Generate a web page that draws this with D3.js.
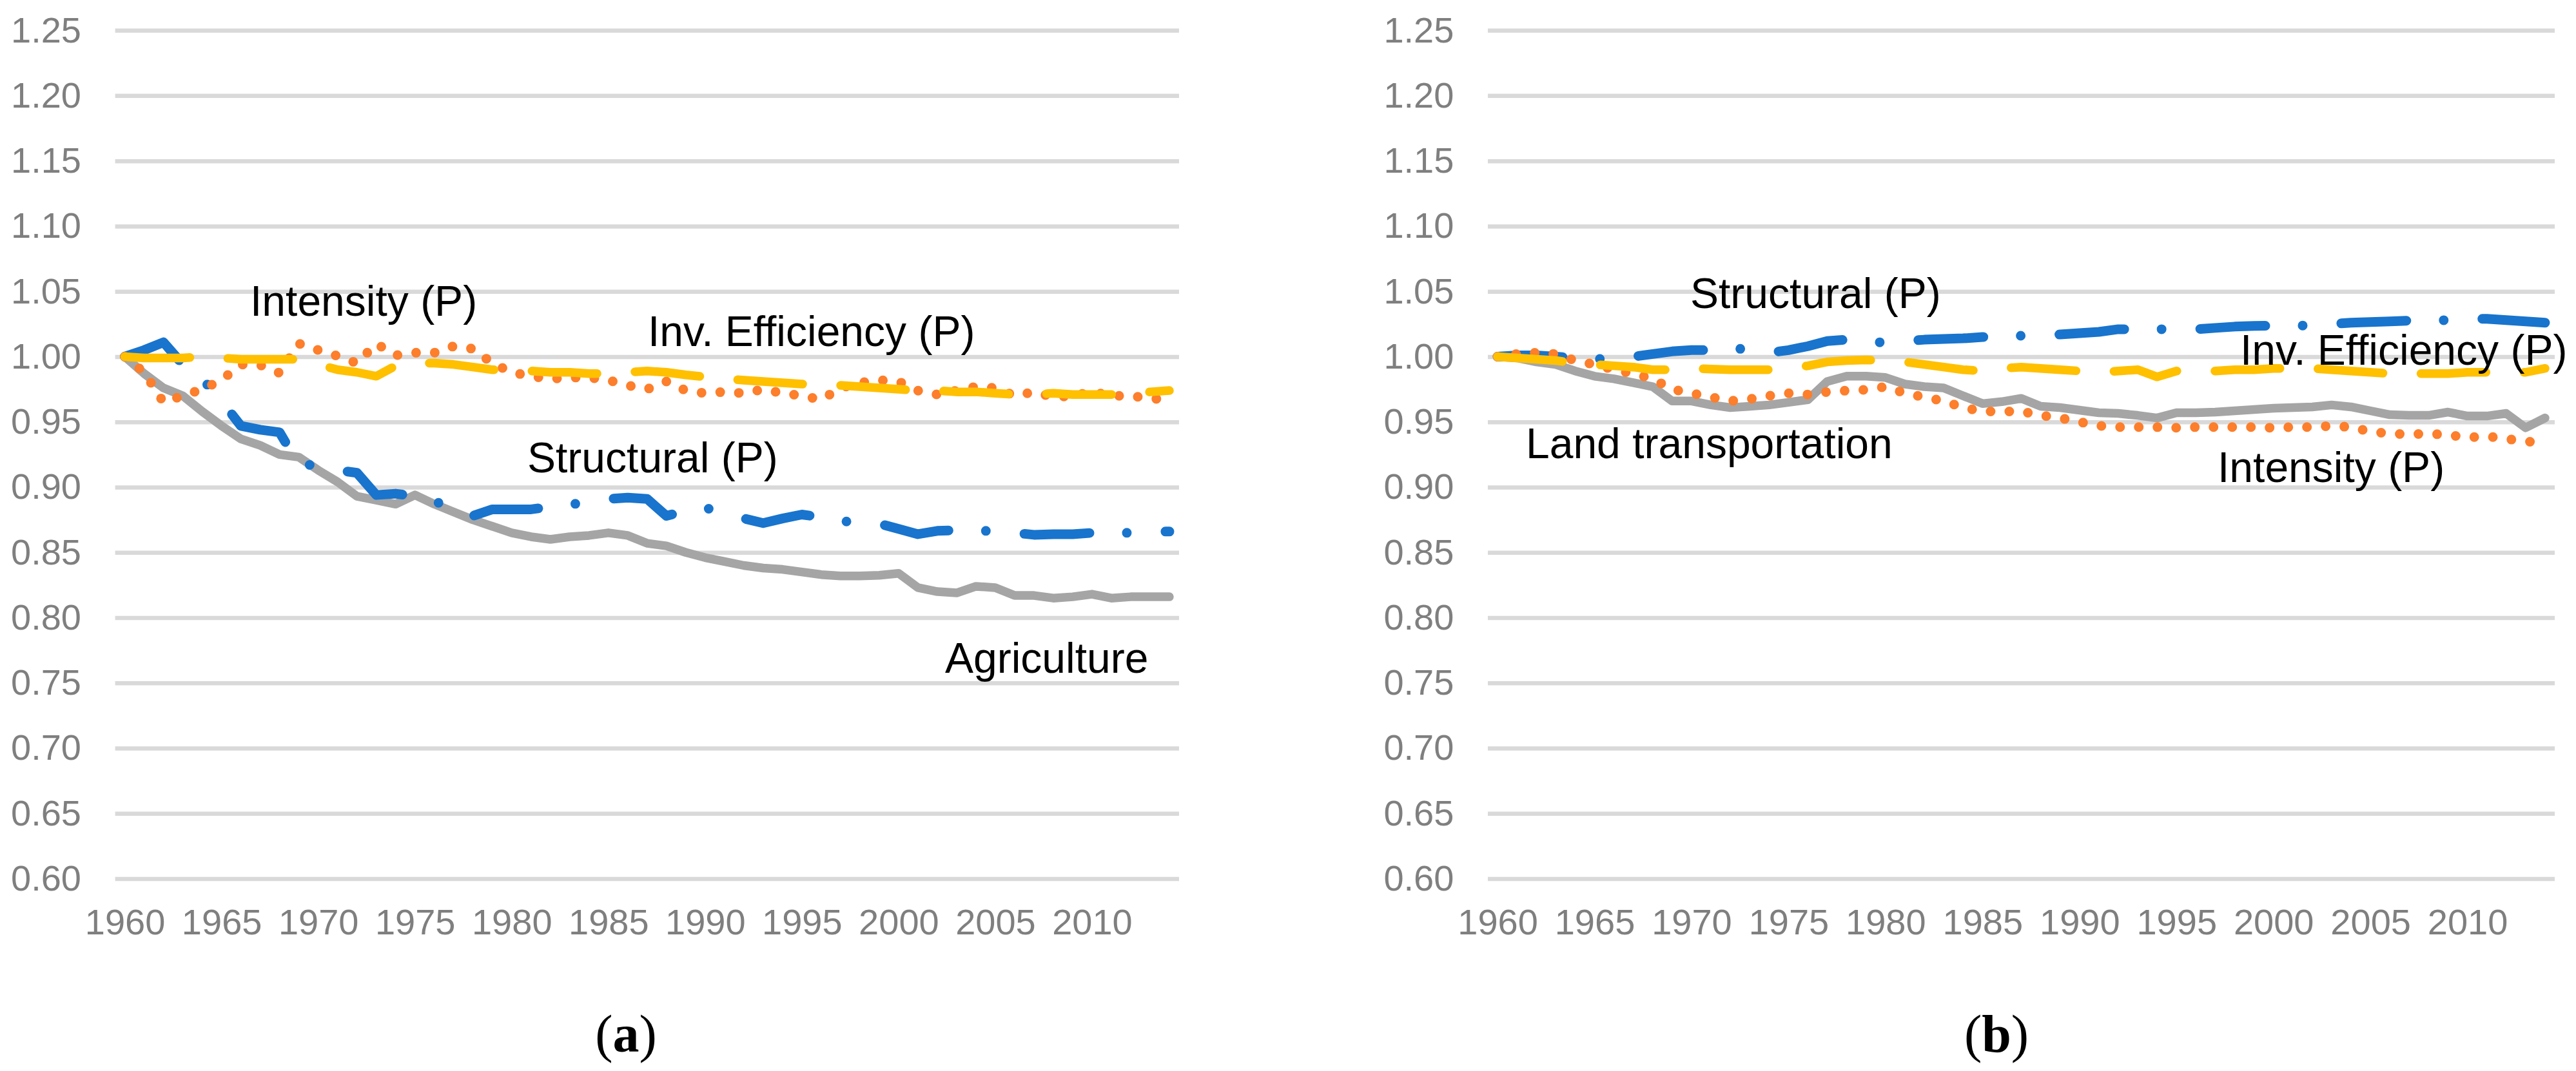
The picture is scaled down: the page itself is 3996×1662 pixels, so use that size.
<!DOCTYPE html>
<html>
<head>
<meta charset="utf-8">
<script src="https://cdnjs.cloudflare.com/ajax/libs/d3/7.8.5/d3.min.js"></script>
<style>
  body { margin: 0; background: #fff; }
</style>
</head>
<body>
<div id="chart"></div>
<script>
// categories and tick labels
var years = [1960,1961,1962,1963,1964,1965,1966,1967,1968,1969,
             1970,1971,1972,1973,1974,1975,1976,1977,1978,1979,
             1980,1981,1982,1983,1984,1985,1986,1987,1988,1989,
             1990,1991,1992,1993,1994,1995,1996,1997,1998,1999,
             2000,2001,2002,2003,2004,2005,2006,2007,2008,2009,
             2010,2011,2012,2013,2014];
var xTicks = [1960,1965,1970,1975,1980,1985,1990,1995,2000,2005,2010];
var yTicks = [0.60,0.65,0.70,0.75,0.80,0.85,0.90,0.95,1.00,1.05,1.10,1.15,1.20,1.25];

// panel (a) agriculture
var agriSector = [1.000,0.987,0.976,0.970,0.958,0.947,0.937,0.932,0.925,0.923,
                  0.913,0.904,0.893,0.890,0.887,0.894,0.887,0.881,0.875,0.870,
                  0.865,0.862,0.860,0.862,0.863,0.865,0.863,0.857,0.855,0.850,
                  0.846,0.843,0.840,0.838,0.837,0.835,0.833,0.832,0.832,0.8325,
                  0.834,0.823,0.820,0.819,0.824,0.823,0.817,0.817,0.815,0.816,
                  0.818,0.815,0.816,0.816,0.816];
var agriStructural = [1.000,1.005,1.011,0.994,0.983,0.966,0.947,0.944,0.942,0.917,
                      0.917,0.913,0.911,0.894,0.895,0.893,0.890,0.881,0.878,0.883,
                      0.883,0.883,0.885,0.8865,0.889,0.891,0.892,0.891,0.878,0.882,
                      0.884,0.881,0.876,0.8725,0.876,0.879,0.877,0.874,0.873,0.872,
                      0.868,0.864,0.8665,0.867,0.867,0.866,0.865,0.8635,0.864,0.864,
                      0.865,0.865,0.865,0.866,0.866];
var agriIntensity = [1.000,0.988,0.965,0.970,0.975,0.982,0.994,0.9935,0.9875,1.010,
                     1.005,1.0005,0.995,1.010,1.001,1.003,1.003,1.008,1.006,0.995,
                     0.988,0.985,0.983,0.984,0.984,0.982,0.978,0.975,0.981,0.974,
                     0.972,0.973,0.972,0.975,0.972,0.970,0.967,0.976,0.980,0.982,
                     0.981,0.974,0.971,0.974,0.977,0.976,0.970,0.973,0.969,0.970,
                     0.973,0.970,0.970,0.968,0.967];
var agriInvEff = [1.000,0.999,0.999,0.999,1.000,0.999,0.998,0.998,0.998,0.998,
                  0.994,0.990,0.988,0.985,0.993,0.995,0.995,0.994,0.992,0.990,
                  0.990,0.989,0.988,0.988,0.987,0.987,0.988,0.989,0.988,0.986,
                  0.9845,0.983,0.982,0.981,0.980,0.979,0.978,0.978,0.977,0.976,
                  0.975,0.974,0.974,0.973,0.973,0.972,0.971,0.971,0.972,0.971,
                  0.971,0.971,0.971,0.973,0.974];

// panel (b) land transportation
var landSector = [1.000,0.999,0.996,0.994,0.989,0.985,0.983,0.980,0.977,0.966,
                  0.966,0.963,0.961,0.962,0.963,0.965,0.967,0.981,0.985,0.985,
                  0.984,0.979,0.977,0.976,0.970,0.964,0.9655,0.968,0.962,0.961,
                  0.959,0.957,0.9565,0.955,0.953,0.957,0.957,0.9575,0.9585,0.9595,
                  0.9605,0.961,0.9615,0.963,0.9615,0.9585,0.9555,0.955,0.955,0.9575,
                  0.9545,0.9545,0.9565,0.9455,0.953];
var landStructural = [1.000,1.001,1.001,1.000,0.999,0.998,0.999,1.000,1.002,1.004,
                      1.005,1.005,1.007,1.005,1.003,1.005,1.008,1.012,1.013,1.011,
                      1.011,1.012,1.013,1.0135,1.014,1.015,1.016,1.016,1.016,1.017,
                      1.018,1.019,1.021,1.021,1.021,1.021,1.021,1.022,1.023,1.0235,
                      1.0237,1.0237,1.024,1.025,1.026,1.0265,1.027,1.0276,1.0276,1.028,
                      1.029,1.029,1.028,1.027,1.026];
var landIntensity = [1.000,1.002,1.003,1.002,0.997,0.994,0.990,0.987,0.983,0.975,
                     0.972,0.969,0.966,0.9675,0.970,0.972,0.971,0.973,0.974,0.9746,
                     0.977,0.972,0.969,0.966,0.961,0.958,0.958,0.958,0.955,0.953,
                     0.950,0.947,0.946,0.946,0.946,0.9455,0.946,0.946,0.946,0.946,
                     0.9455,0.946,0.946,0.947,0.946,0.9425,0.941,0.9405,0.941,0.940,
                     0.938,0.939,0.937,0.935,0.934];
var landInvEff = [1.000,0.999,0.998,0.997,0.995,0.994,0.993,0.992,0.990,0.990,
                  0.991,0.9905,0.990,0.990,0.990,0.991,0.993,0.996,0.997,0.9975,
                  0.997,0.996,0.994,0.992,0.990,0.989,0.991,0.992,0.991,0.990,
                  0.989,0.988,0.989,0.990,0.9845,0.989,0.989,0.989,0.990,0.990,
                  0.991,0.991,0.991,0.990,0.989,0.988,0.987,0.987,0.987,0.987,
                  0.988,0.988,0.988,0.988,0.991];

// svg attributes
let svgWidth = 3996;
let svgHeight = 1662;
let plotTop = 47.1;
let plotBottom = 1363.6;

let svg = d3.select("#chart")
  .append("svg")
  .attr("width", svgWidth)
  .attr("height", svgHeight);

// line styles: gray solid, blue long dash dot, orange round dot, gold long dash
let styles = {
  sector:     { color: "#a5a5a5", width: 13.5, dash: null },
  structural: { color: "#1874cd", width: 15,   dash: "101,58,0,60" },
  intensity:  { color: "#fd7e2b", width: 15,   dash: "0,29" },
  inveff:     { color: "#ffc000", width: 13.5, dash: "101,59" }
};

let yscale = d3.scaleLinear()
  .domain([0.60, 1.25])
  .range([plotBottom, plotTop]);

function drawPanel(left, right, series, notes, caption) {
  let g = svg.append("g");

  let xscale = d3.scalePoint()
    .domain(years)
    .range([left, right])
    .padding(0.5);

  // gridlines + y labels
  let yAxis = d3.axisLeft(yscale)
    .tickValues(yTicks)
    .tickFormat(d3.format(".2f"))
    .tickSizeInner(-(right - left))
    .tickSizeOuter(0)
    .tickPadding(52.6);

  let yg = g.append("g")
    .attr("transform", "translate(" + left + ",0)")
    .call(yAxis);
  yg.select(".domain").remove();
  yg.selectAll("line").attr("stroke", "#d9d9d9").attr("stroke-width", 6.5);
  yg.selectAll("text")
    .attr("fill", "#7f7f7f")
    .attr("font-size", 56)
    .attr("font-family", "Liberation Sans, Arial, sans-serif");

  // x labels
  let xAxis = d3.axisBottom(xscale)
    .tickValues(xTicks)
    .tickSize(0)
    .tickPadding(46.6);

  let xg = g.append("g")
    .attr("transform", "translate(0," + plotBottom + ")")
    .call(xAxis);
  xg.select(".domain").remove();
  xg.selectAll("text")
    .attr("fill", "#7f7f7f")
    .attr("font-size", 56)
    .attr("font-family", "Liberation Sans, Arial, sans-serif");

  let line = d3.line()
    .x((d, i) => xscale(years[i]))
    .y(d => yscale(d));

  series.forEach(function (s) {
    let st = styles[s.kind];
    g.append("path")
      .datum(s.values)
      .attr("d", line)
      .attr("fill", "none")
      .attr("stroke", st.color)
      .attr("stroke-width", st.width)
      .attr("stroke-linecap", "round")
      .attr("stroke-linejoin", "round")
      .attr("stroke-dasharray", st.dash);
  });

  g.selectAll(".note")
    .data(notes)
    .enter()
    .append("text")
    .attr("x", d => d.x)
    .attr("y", d => d.y)
    .attr("font-size", 66)
    .attr("font-family", "Liberation Sans, Arial, sans-serif")
    .attr("fill", "#000")
    .text(d => d.text);

  let cap = g.append("text")
    .attr("x", caption.x)
    .attr("y", 1632)
    .attr("text-anchor", "middle")
    .attr("font-size", 82)
    .attr("font-family", "Liberation Serif, Times New Roman, serif")
    .attr("fill", "#000");
  cap.append("tspan").text("(");
  cap.append("tspan").attr("font-weight", "bold").text(caption.letter);
  cap.append("tspan").text(")");
}

// panel (a)
drawPanel(178.6, 1829,
  [ { kind: "sector", values: agriSector },
    { kind: "structural", values: agriStructural },
    { kind: "intensity", values: agriIntensity },
    { kind: "inveff", values: agriInvEff } ],
  [ { text: "Intensity (P)", x: 388, y: 490 },
    { text: "Inv. Efficiency (P)", x: 1005, y: 537 },
    { text: "Structural (P)", x: 818, y: 733 },
    { text: "Agriculture", x: 1466, y: 1044 } ],
  { letter: "a", x: 971 });

// panel (b)
drawPanel(2308, 3963,
  [ { kind: "sector", values: landSector },
    { kind: "structural", values: landStructural },
    { kind: "intensity", values: landIntensity },
    { kind: "inveff", values: landInvEff } ],
  [ { text: "Structural (P)", x: 2622, y: 478 },
    { text: "Land transportation", x: 2367, y: 711 },
    { text: "Inv. Efficiency (P)", x: 3475, y: 566 },
    { text: "Intensity (P)", x: 3440, y: 748 } ],
  { letter: "b", x: 3097 });
</script>
</body>
</html>
